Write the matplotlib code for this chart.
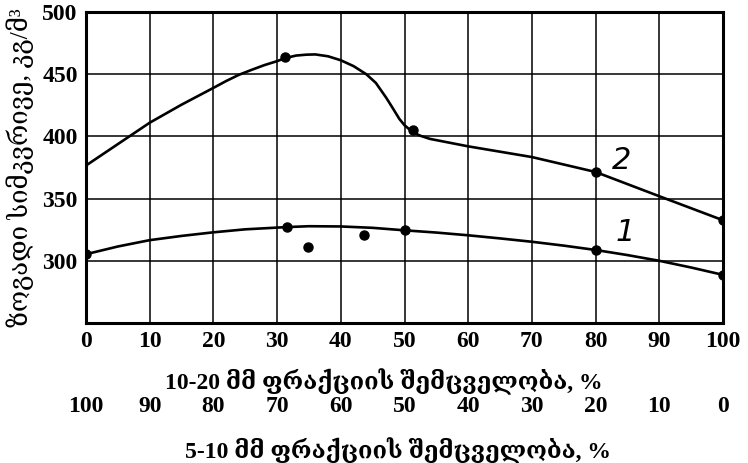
import matplotlib
matplotlib.use("Agg")
import matplotlib.pyplot as plt

# curve 2
c2_x = [0, 6.8, 10, 15, 20, 22, 24, 26, 28, 30, 31.3, 33, 34.6, 36, 38, 40, 42, 44, 45.5, 47.1, 48, 49.2, 50, 50.8, 51.5, 52.5, 54, 56, 60, 70, 80, 90, 100]
c2_y = [376.6, 400, 411, 425.5, 439, 444.5, 449.5, 453.5, 457.3, 460.5, 463, 465, 465.7, 465.9, 464.4, 461.2, 456.5, 450, 443, 431.3, 424, 414, 409, 405.5, 402.8, 400.5, 398, 396, 392, 383.4, 371.4, 351.9, 332.6]
c2_pts_x = [31.3, 51.3, 80, 100]
c2_pts_y = [463.8, 405.0, 371.4, 332.6]

# curve 1
c1_x = [0, 5, 10, 15, 20, 25, 31.5, 35, 40, 45, 50, 55, 60, 65, 70, 75, 80, 85, 90, 95, 100]
c1_y = [305.3, 311.5, 316.6, 320, 322.9, 325.3, 327.1, 327.8, 327.6, 326.5, 324.5, 322.7, 320.5, 318, 315.3, 312.2, 308.7, 304.6, 300, 294.6, 288.7]
c1_pts_x = [0, 31.5, 34.9, 43.6, 50, 80, 100]
c1_pts_y = [305.3, 327.1, 311.0, 321.0, 324.5, 308.7, 288.7]

x_ticks = [0, 10, 20, 30, 40, 50, 60, 70, 80, 90, 100]
y_ticks = [300, 350, 400, 450, 500]

ylabel = "ზოგადი სიმკვრივე, კგ/მ³"
xlabel1 = "10-20 მმ ფრაქციის შემცველობა, %"
xlabel2 = "5-10 მმ ფრაქციის შემცველობა, %"

FAM = ["Liberation Serif", "DejaVu Serif", "DejaVu Sans"]
plt.rcParams["font.family"] = FAM

fig = plt.figure(figsize=(7.48, 4.63), dpi=100)
ax = fig.add_axes([86 / 748, 1 - 323 / 463, 637 / 748, 311 / 463])

ax.plot(c2_x, c2_y, color="black", lw=1.9, solid_joinstyle="round")
ax.plot(c2_pts_x, c2_pts_y, "o", color="black", ms=6.5)
ax.plot(c1_x, c1_y, color="black", lw=1.9, solid_joinstyle="round")
ax.plot(c1_pts_x, c1_pts_y, "o", color="black", ms=6.5)

ax.text(84.1, 380.5, "2", fontsize=22, style="italic", family="DejaVu Sans",
        ha="center", va="center")
ax.text(84.6, 322.4, "1", fontsize=22, style="italic", family="DejaVu Sans",
        ha="center", va="center")

ax.set_xlim(0, 100)
ax.set_ylim(250, 500)
ax.set_xticks(x_ticks)
ax.set_yticks(y_ticks)
ax.grid(True, color="black", lw=1.1)
ax.set_axisbelow(True)
for s in ax.spines.values():
    s.set_linewidth(2.2)
ax.tick_params(length=0, labelsize=17, pad=6)
for lab in ax.get_xticklabels() + ax.get_yticklabels():
    lab.set_fontweight("bold")

ax.set_ylabel(ylabel, fontsize=18.5)
ax.yaxis.set_label_coords(-0.082, 0.5)
ax.set_xlabel(xlabel1, fontsize=17, fontweight="bold")
ax.xaxis.set_label_coords(0.468, -0.145)

sec = ax.secondary_xaxis(-0.222, functions=(lambda v: 100 - v, lambda v: 100 - v))
sec.set_xticks(x_ticks)
sec.spines["bottom"].set_visible(False)
sec.tick_params(length=0, labelsize=17, pad=3)
for lab in sec.get_xticklabels():
    lab.set_fontweight("bold")

ax.text((398 - 86) / 637, -(437 - 323) / 311, xlabel2, transform=ax.transAxes,
        fontsize=17, fontweight="bold", ha="center", va="top")

fig.savefig("out.png", dpi=100)
